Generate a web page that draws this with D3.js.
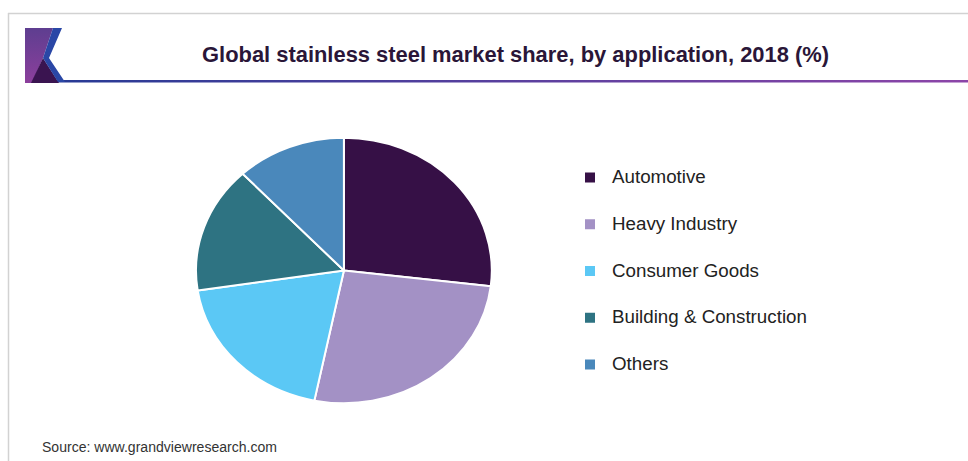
<!DOCTYPE html>
<html>
<head>
<meta charset="utf-8">
<script src="https://cdn.jsdelivr.net/npm/d3@7"></script>
<style>
  html, body { margin: 0; padding: 0; background: #fff; }
  svg { display: block; }
  text { font-family: "Liberation Sans", Arial, Helvetica, sans-serif; }
</style>
</head>
<body>
<svg id="chart" width="968" height="461"></svg>
<script>
// Application shares of global stainless steel demand, 2018 (%)
const categories = ["Automotive", "Heavy Industry", "Consumer Goods", "Building & Construction", "Others"];
const shares = [26.9, 26.3, 19.4, 15.4, 12.0];
const colors = ["#361046", "#a391c5", "#5bc8f5", "#2e7382", "#4a88bb"];

const titleText = "Global stainless steel market share, by application, 2018 (%)";
const sourceText = "Source: www.grandviewresearch.com";

const W = 968, H = 461;
const svg = d3.select("#chart");

// Size a text element so it spans the given width
function fitWidth(sel, width, start) {
  sel.style("font-size", start + "px");
  const w = sel.node().getComputedTextLength();
  sel.style("font-size", (start * width / w).toFixed(2) + "px");
}

// Frame: thin grey lines on top and left
svg.append("line").attr("x1", 8).attr("x2", W).attr("y1", 13.5).attr("y2", 13.5)
  .attr("stroke", "#d2d2d2").attr("stroke-width", 1.5);
svg.append("line").attr("x1", 8.5).attr("x2", 8.5).attr("y1", 13).attr("y2", H)
  .attr("stroke", "#d2d2d2").attr("stroke-width", 1.5);

// Header rule gradient
const defs = svg.append("defs");
const rule = defs.append("linearGradient").attr("id", "ruleGrad")
  .attr("x1", "0%").attr("x2", "100%").attr("y1", "0%").attr("y2", "0%");
rule.append("stop").attr("offset", "0%").attr("stop-color", "#243a94");
rule.append("stop").attr("offset", "100%").attr("stop-color", "#8c45a8");

const logoGrad = defs.append("linearGradient").attr("id", "logoGrad")
  .attr("x1", "0%").attr("x2", "0%").attr("y1", "0%").attr("y2", "100%");
logoGrad.append("stop").attr("offset", "0%").attr("stop-color", "#5e3e90");
logoGrad.append("stop").attr("offset", "100%").attr("stop-color", "#8c3f9c");

svg.append("rect").attr("x", 25).attr("y", 80).attr("width", W - 25).attr("height", 2.5)
  .attr("fill", "url(#ruleGrad)");

// Logo mark
const logo = svg.append("g");
const poly = pts => pts.map(p => p.join(",")).join(" ");
logo.append("polygon")
  .attr("points", poly([[25, 28], [53, 28], [43, 58], [32, 83], [25, 83]]))
  .attr("fill", "url(#logoGrad)");
logo.append("polygon")
  .attr("points", poly([[31, 83], [43, 58], [59, 83]]))
  .attr("fill", "#3a1450");
logo.append("polygon")
  .attr("points", poly([[53, 28], [62, 28], [49, 58], [65, 82], [58, 82], [43, 58]]))
  .attr("fill", "#2a47a6");

// Title
const title = svg.append("text")
  .attr("x", 202).attr("y", 62)
  .attr("fill", "#2a1638")
  .attr("font-weight", "bold")
  .text(titleText);
fitWidth(title, 627, 19);

// Pie (drawn as an ellipse: circle arcs scaled vertically)
const cx = 343.9, cy = 270.5, rx = 147.9, ry = 132.8;
const data = categories.map((c, i) => ({ name: c, value: shares[i], color: colors[i] }));
const pie = d3.pie().value(d => d.value).sort(null);
const arc = d3.arc().innerRadius(0).outerRadius(rx);

const pieG = svg.append("g")
  .attr("transform", `translate(${cx},${cy}) scale(1,${ry / rx})`);
pieG.selectAll("path")
  .data(pie(data))
  .join("path")
  .attr("d", arc)
  .attr("fill", d => d.data.color)
  .attr("stroke", "#fff")
  .attr("stroke-width", 2)
  .attr("stroke-linejoin", "round")
  .attr("vector-effect", "non-scaling-stroke");

// Legend
const legendY = d3.scalePoint().domain(categories).range([177.5, 364.5]);
const legend = svg.append("g").selectAll("g")
  .data(data)
  .join("g")
  .attr("transform", d => `translate(585,${legendY(d.name)})`);
legend.append("rect")
  .attr("x", 0).attr("y", -5).attr("width", 10).attr("height", 10)
  .attr("fill", d => d.color);
const labels = legend.append("text")
  .attr("x", 27).attr("y", 5.7)
  .attr("fill", "#222")
  .text(d => d.name);
// scale legend font from the longest entry
const longest = labels.filter(d => d.name === "Building & Construction");
fitWidth(longest, 195, 16);
labels.style("font-size", longest.style("font-size"));

// Source line
const src = svg.append("text")
  .attr("x", 42).attr("y", 451.5)
  .attr("fill", "#333")
  .text(sourceText);
fitWidth(src, 235, 12.5);
</script>
</body>
</html>
